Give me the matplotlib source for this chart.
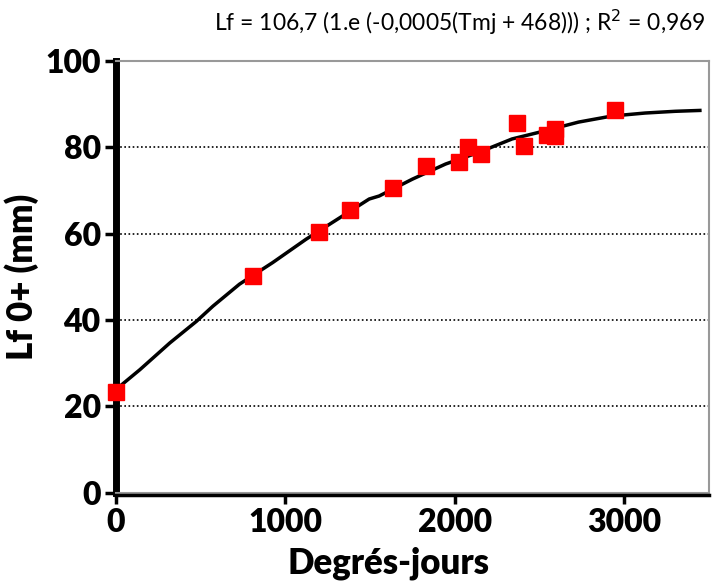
import matplotlib.pyplot as plt
from matplotlib.lines import Line2D

plt.rcParams['font.family'] = ['Lato', 'DejaVu Sans']

# observed points (degree-days, fork length mm)
deg_days = [0, 806, 1200, 1382, 1635, 1829, 2024, 2076, 2153, 2365, 2406, 2541, 2588, 2588, 2947]
lf_mm = [23.4, 50.3, 60.3, 65.4, 70.5, 75.6, 76.6, 80.0, 78.4, 85.6, 80.3, 82.8, 84.2, 82.6, 88.6]

# fitted curve
fit_x = [0, 24, 141, 318, 475, 572, 729, 925, 1122, 1278, 1494, 1553, 1749, 1945,
         2141, 2337, 2533, 2729, 2925, 3122, 3300, 3445]
fit_y = [23.4, 24.7, 28.5, 34.7, 39.7, 43.2, 48.3, 53.3, 58.7, 62.6, 68.0, 68.7, 72.6, 76.1,
         78.8, 81.9, 83.8, 85.8, 87.2, 87.9, 88.3, 88.5]

x_ticks = [0, 1000, 2000, 3000]
y_ticks = [0, 20, 40, 60, 80, 100]
title = 'Lf = 106,7 (1.e (-0,0005(Tmj + 468))) ; R$^2$ = 0,969'

fig = plt.figure(figsize=(7.2, 5.84), dpi=100)
ax = fig.add_axes([0.161, 0.156, 0.824, 0.74])

ax.plot(fit_x, fit_y, color='black', lw=2.5, zorder=3)
ax.plot(deg_days, lf_mm, 's', color='#ff0000', ms=11, mec='#ff0000', zorder=6, clip_on=False)

ax.set_xlim(0, 3500)
ax.set_ylim(0, 100)
ax.set_xticks(x_ticks)
ax.set_yticks(y_ticks)
ax.set_xticklabels([str(v) for v in x_ticks], fontsize=23, fontweight='heavy')
ax.set_yticklabels([str(v) for v in y_ticks], fontsize=23, fontweight='heavy')
ax.tick_params(axis='both', direction='out', length=8, width=2.5, color='black', pad=3)

#dotted grid only on the inner lines
for v in [20, 40, 60, 80]:
    ax.axhline(v, color='black', lw=1.2, ls=(0, (1, 1.5)), zorder=1)

for side in ['top', 'right']:
    ax.spines[side].set_color('#999999')
    ax.spines[side].set_linewidth(1.5)
ax.spines['left'].set_color('black')
ax.spines['left'].set_linewidth(5)
ax.spines['left'].set_zorder(2.5)
ax.spines['bottom'].set_color('#999999')
ax.spines['bottom'].set_linewidth(1.5)

# black x axis line sitting just under the gray frame
ax.add_line(Line2D([0, 1], [-0.006, -0.006], transform=ax.transAxes, color='black',
                   lw=2.5, clip_on=False, zorder=5))

ax.set_xlabel('Degrés-jours', fontsize=25, fontweight='heavy')
ax.xaxis.set_label_coords(0.46, -0.125)
ax.set_ylabel('Lf 0+ (mm)', fontsize=25, fontweight='heavy')
ax.yaxis.set_label_coords(-0.13, 0.5)

fig.text(0.98, 0.962, title, fontsize=16.5, ha='right', va='center')

fig.savefig('out.png', dpi=100)
